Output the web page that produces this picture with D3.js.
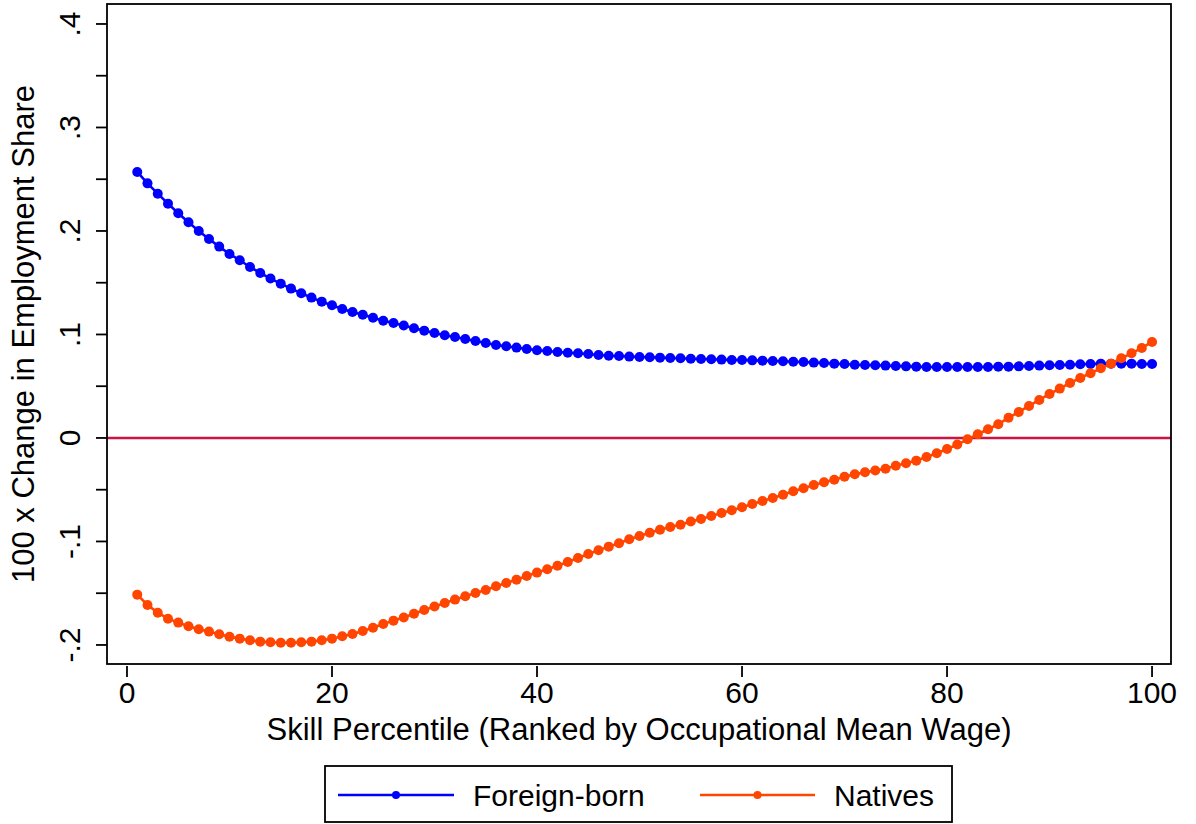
<!DOCTYPE html>
<html>
<head>
<meta charset="utf-8">
<script src="https://cdn.jsdelivr.net/npm/d3@7"></script>
<style>
  html, body { margin: 0; padding: 0; background: #fff; }
  svg { display: block; font-family: "Liberation Sans", Arial, Helvetica, sans-serif; }
</style>
</head>
<body>
<svg id="chart" width="1196" height="824"></svg>
<script>
// ---- data ----
const percentiles = d3.range(1, 101);
const foreignBorn = [
  0.257, 0.246, 0.236, 0.2264, 0.2171, 0.2084, 0.2000, 0.1923, 0.1849, 0.1778,
  0.1717, 0.1652, 0.1594, 0.1540, 0.1491, 0.1443, 0.1398, 0.1356, 0.1317, 0.1282,
  0.1246, 0.1217, 0.1191, 0.1162, 0.1133, 0.1111, 0.1087, 0.1060, 0.1037, 0.1015,
  0.0993, 0.0976, 0.0957, 0.0937, 0.0918, 0.0899, 0.0886, 0.0873, 0.0860, 0.0847,
  0.0841, 0.0831, 0.0824, 0.0818, 0.0812, 0.0802, 0.0795, 0.0792, 0.0786, 0.0783,
  0.0780, 0.0776, 0.0773, 0.0770, 0.0766, 0.0763, 0.0760, 0.0757, 0.0754, 0.0754,
  0.0750, 0.0747, 0.0744, 0.0741, 0.0737, 0.0734, 0.0728, 0.0725, 0.0718, 0.0715,
  0.0708, 0.0705, 0.0702, 0.0699, 0.0696, 0.0692, 0.0689, 0.0686, 0.0686, 0.0686,
  0.0686, 0.0686, 0.0686, 0.0686, 0.0689, 0.0689, 0.0692, 0.0696, 0.0699, 0.0702,
  0.0705, 0.0708, 0.0712, 0.0715, 0.0718, 0.0718, 0.0718, 0.0718, 0.0715, 0.0715
];
const natives = [
  -0.1514, -0.1614, -0.1688, -0.1746, -0.1784, -0.1820, -0.1849, -0.1871, -0.1897, -0.1920,
  -0.1939, -0.1955, -0.1968, -0.1974, -0.1978, -0.1978, -0.1974, -0.1968, -0.1955, -0.1939,
  -0.1916, -0.1894, -0.1865, -0.1833, -0.1797, -0.1765, -0.1735, -0.1699, -0.1663, -0.1628,
  -0.1595, -0.1562, -0.1530, -0.1498, -0.1469, -0.1433, -0.1401, -0.1369, -0.1333, -0.1301,
  -0.1269, -0.1234, -0.1198, -0.1159, -0.1121, -0.1085, -0.1050, -0.1018, -0.0979, -0.0947,
  -0.0915, -0.0886, -0.0860, -0.0838, -0.0808, -0.0783, -0.0754, -0.0725, -0.0699, -0.0670,
  -0.0638, -0.0609, -0.0580, -0.0548, -0.0515, -0.0486, -0.0454, -0.0428, -0.0403, -0.0375,
  -0.0351, -0.0332, -0.0314, -0.0297, -0.0268, -0.0245, -0.0219, -0.0184, -0.0148, -0.0106,
  -0.0064, -0.0013, 0.0036, 0.0084, 0.0132, 0.0196, 0.0251, 0.0309, 0.0367, 0.0425,
  0.0477, 0.0531, 0.0580, 0.0625, 0.0673, 0.0718, 0.0770, 0.0818, 0.0870, 0.0928
];
const seriesNames = ["Foreign-born", "Natives"];
const seriesColors = ["#0000ff", "#ff4500"];
const xTicks = [0, 20, 40, 60, 80, 100];
const yMajorTicks = [-0.2, -0.1, 0, 0.1, 0.2, 0.3, 0.4];
const yMinorTicks = [-0.15, -0.05, 0.05, 0.15, 0.25, 0.35];
const yTickLabels = ["-.2", "-.1", "0", ".1", ".2", ".3", ".4"];
const xTitle = "Skill Percentile (Ranked by Occupational Mean Wage)";
const yTitle = "100 x Change in Employment Share";

// ---- layout ----
const plot = { left: 107, top: 4, right: 1171, bottom: 664 };
const svg = d3.select("#chart");

const x = d3.scaleLinear().domain([-1.95, 101.85]).range([plot.left, plot.right]);
const y = d3.scaleLinear().domain([-0.2184, 0.4193]).range([plot.bottom, plot.top]);

// zero reference line
svg.append("line")
  .attr("x1", plot.left).attr("x2", plot.right)
  .attr("y1", y(0)).attr("y2", y(0))
  .attr("stroke", "#cc1444").attr("stroke-width", 2.6);

// series
const series = [foreignBorn, natives];
series.forEach((vals, i) => {
  const pts = percentiles.map((p, j) => [p, vals[j]]);
  const line = d3.line().x(d => x(d[0])).y(d => y(d[1]));
  svg.append("path")
    .attr("d", line(pts))
    .attr("fill", "none")
    .attr("stroke", seriesColors[i])
    .attr("stroke-width", 2.6);
  svg.append("g").selectAll("circle").data(pts).join("circle")
    .attr("cx", d => x(d[0])).attr("cy", d => y(d[1]))
    .attr("r", 5)
    .attr("fill", seriesColors[i]);
});

// frame
svg.append("rect")
  .attr("x", plot.left).attr("y", plot.top)
  .attr("width", plot.right - plot.left).attr("height", plot.bottom - plot.top)
  .attr("fill", "none").attr("stroke", "#000").attr("stroke-width", 1.8);

// y axis ticks
const yAxis = svg.append("g").attr("stroke", "#000").attr("stroke-width", 1.8);
yMajorTicks.concat(yMinorTicks).forEach(v => {
  yAxis.append("line")
    .attr("x1", plot.left - 11).attr("x2", plot.left)
    .attr("y1", y(v)).attr("y2", y(v));
});
yMajorTicks.forEach((v, i) => {
  svg.append("text")
    .attr("transform", `translate(80,${y(v)}) rotate(-90)`)
    .attr("text-anchor", "middle")
    .attr("font-size", 30)
    .attr("fill", "#000")
    .text(yTickLabels[i]);
});

// x axis ticks
const xAxis = svg.append("g").attr("stroke", "#000").attr("stroke-width", 1.8);
xTicks.forEach(v => {
  xAxis.append("line")
    .attr("x1", x(v)).attr("x2", x(v))
    .attr("y1", plot.bottom + 2).attr("y2", plot.bottom + 13);
  svg.append("text")
    .attr("x", x(v)).attr("y", 703)
    .attr("text-anchor", "middle")
    .attr("font-size", 30)
    .attr("fill", "#000")
    .text(v);
});

// axis titles
svg.append("text")
  .attr("x", (plot.left + plot.right) / 2).attr("y", 740)
  .attr("text-anchor", "middle").attr("font-size", 31).attr("fill", "#000")
  .text(xTitle);
svg.append("text")
  .attr("transform", `translate(34,${(plot.top + plot.bottom) / 2}) rotate(-90)`)
  .attr("text-anchor", "middle").attr("font-size", 31).attr("fill", "#000")
  .text(yTitle);

// legend
const legend = svg.append("g");
legend.append("rect")
  .attr("x", 325).attr("y", 766).attr("width", 627).attr("height", 56)
  .attr("fill", "#fff").attr("stroke", "#000").attr("stroke-width", 1.8);
const legendItems = [
  { x1: 338, x2: 454, tx: 473 },
  { x1: 700, x2: 815, tx: 834 }
];
legendItems.forEach((it, i) => {
  legend.append("line")
    .attr("x1", it.x1).attr("x2", it.x2).attr("y1", 795).attr("y2", 795)
    .attr("stroke", seriesColors[i]).attr("stroke-width", 2.6);
  legend.append("circle")
    .attr("cx", (it.x1 + it.x2) / 2).attr("cy", 795).attr("r", 4)
    .attr("fill", seriesColors[i]);
  legend.append("text")
    .attr("x", it.tx).attr("y", 806)
    .attr("font-size", 30).attr("fill", "#000")
    .text(seriesNames[i]);
});
</script>
</body>
</html>
